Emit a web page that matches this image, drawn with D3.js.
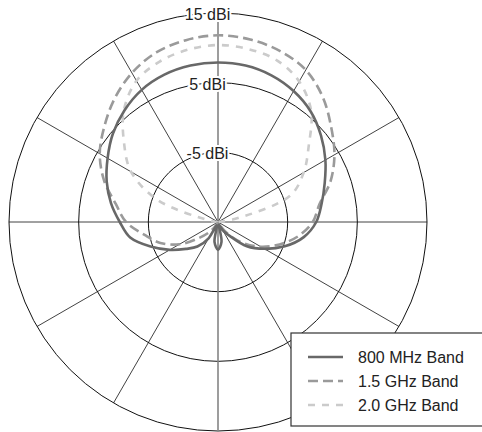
<!DOCTYPE html>
<html>
  <head>
    <title>Antenna pattern</title>
    <style>
      body { margin: 0; background: #fff; }
      text { font-family: "Liberation Sans", Arial, sans-serif; }
    </style>
  </head>
  <body>
    <script src="https://cdnjs.cloudflare.com/ajax/libs/d3/7.8.5/d3.min.js"></script>
    <script>
      // angle in degrees, clockwise from the top
      let angles = [-180, -170, -160, -150, -140, -130, -120, -110, -100, -90, -80, -70,
                    -60, -50, -40, -30, -20, -10, 0, 10, 20, 30, 40, 50,
                    60, 70, 80, 90, 100, 110, 120, 130, 140, 150, 160, 170];

      let band800 = [-11.0, -12.1, -14.5, -12.3, -10.4, -9.0, -7.0, -4.7, -2.2, -0.9, 0.6, 2.0,
                     3.3, 4.7, 5.9, 6.9, 7.5, 7.8, 7.9, 7.8, 7.4, 6.7, 5.7, 4.3,
                     2.8, 1.3, 0.1, -0.9, -2.5, -4.8, -7.3, -9.6, -12.4, -13.6, -14.6, -12.1];

      let band15 = [-15, -15, -15, -14.6, -13.2, -11.4, -8.6, -6.2, -4.3, -1.8, -0.1, 2.4,
                    4.6, 6.3, 8.1, 9.7, 10.9, 11.5, 11.8, 11.6, 11.1, 10.2, 8.4, 6.2,
                    4.3, 2.2, -0.2, -1.4, -3.3, -5.6, -7.9, -10.3, -12.7, -14.5, -15, -15];

      let band20 = [-15, -15, -15, -15, -15, -15, -15, -15, -15, -15, -13.8, -5.8,
                    -0.6, 2.6, 6.0, 8.4, 9.5, 10.1, 10.4, 10.2, 9.7, 8.3, 5.8, 2.0,
                    -0.8, -4.0, -12.6, -15, -15, -15, -15, -15, -15, -15, -15, -15];

      let seriesNames = ['800 MHz Band', '1.5 GHz Band', '2.0 GHz Band'];
      let ringValues = [15, 5, -5];
      let ringLabels = ['15 dBi', '5 dBi', '-5 dBi'];
      let spokeAngles = [0, 30, 60, 90, 120, 150, 180, 210, 240, 270, 300, 330];

      let series = [
        { name: seriesNames[0], values: band800, color: '#686868', dash: null },
        { name: seriesNames[1], values: band15, color: '#9a9a9a', dash: '10,5' },
        { name: seriesNames[2], values: band20, color: '#cbcbcb', dash: '7,7' }
      ];

      let svg = d3.select('body')
                  .append('svg')
                  .attr('width', 482)
                  .attr('height', 432);

      let rScale = d3.scaleLinear()
                     .domain([-15, 15])
                     .range([0, 209]);

      let chart = svg.append('g')
                     .attr('transform', 'translate(218,222)');

      let rad = (d) => d * Math.PI / 180;

      chart.selectAll('circle.ring')
           .data(ringValues)
           .enter()
             .append('circle')
             .attr('class', 'ring')
             .attr('r', (d) => rScale(d))
             .attr('fill', 'none')
             .attr('stroke', '#111')
             .attr('stroke-width', 1);

      chart.selectAll('line.spoke')
           .data(spokeAngles)
           .enter()
             .append('line')
             .attr('class', 'spoke')
             .attr('x1', 0)
             .attr('y1', 0)
             .attr('x2', (d) => rScale(15) * Math.sin(rad(d)))
             .attr('y2', (d) => -rScale(15) * Math.cos(rad(d)))
             .attr('stroke', (d) => d % 180 === 0 ? '#858585' : '#111')
             .attr('stroke-width', (d) => d % 180 === 0 ? 1.6 : 0.8);

      let radial = d3.lineRadial()
                     .angle((d) => rad(d[0]))
                     .radius((d) => rScale(d[1]))
                     .curve(d3.curveCatmullRomClosed.alpha(0.5));

      series.slice().reverse().forEach((s) => {
        chart.append('path')
             .attr('d', radial(d3.zip(angles, s.values)))
             .attr('fill', 'none')
             .attr('stroke', s.color)
             .attr('stroke-width', 2.6)
             .attr('stroke-dasharray', s.dash);
      });

      chart.selectAll('text.ring-label')
           .data(ringValues)
           .enter()
             .append('text')
             .attr('class', 'ring-label')
             .attr('x', -10.5)
             .attr('y', (d) => -rScale(d) + 7)
             .attr('text-anchor', 'middle')
             .attr('font-size', 16)
             .attr('fill', '#222')
             .attr('stroke', '#fff')
             .attr('stroke-width', 4)
             .attr('paint-order', 'stroke')
             .text((d, i) => ringLabels[i]);

      let legend = svg.append('g');

      legend.append('rect')
            .attr('x', 291)
            .attr('y', 333)
            .attr('width', 200)
            .attr('height', 93)
            .attr('fill', '#fff')
            .attr('stroke', '#333')
            .attr('stroke-width', 1.2);

      let legendY = d3.scalePoint()
                      .domain(seriesNames)
                      .range([357, 405]);

      let items = legend.selectAll('g.item')
                        .data(series)
                        .enter()
                          .append('g')
                          .attr('class', 'item')
                          .attr('transform', (d) => 'translate(0,' + legendY(d.name) + ')');

      items.append('line')
           .attr('x1', 308)
           .attr('x2', 343)
           .attr('stroke', (d) => d.color)
           .attr('stroke-width', 2.6)
           .attr('stroke-dasharray', (d) => d.dash);

      items.append('text')
           .attr('x', 358)
           .attr('y', 5.5)
           .attr('font-size', 16)
           .attr('fill', '#222')
           .text((d) => d.name);
    </script>
  </body>
</html>
